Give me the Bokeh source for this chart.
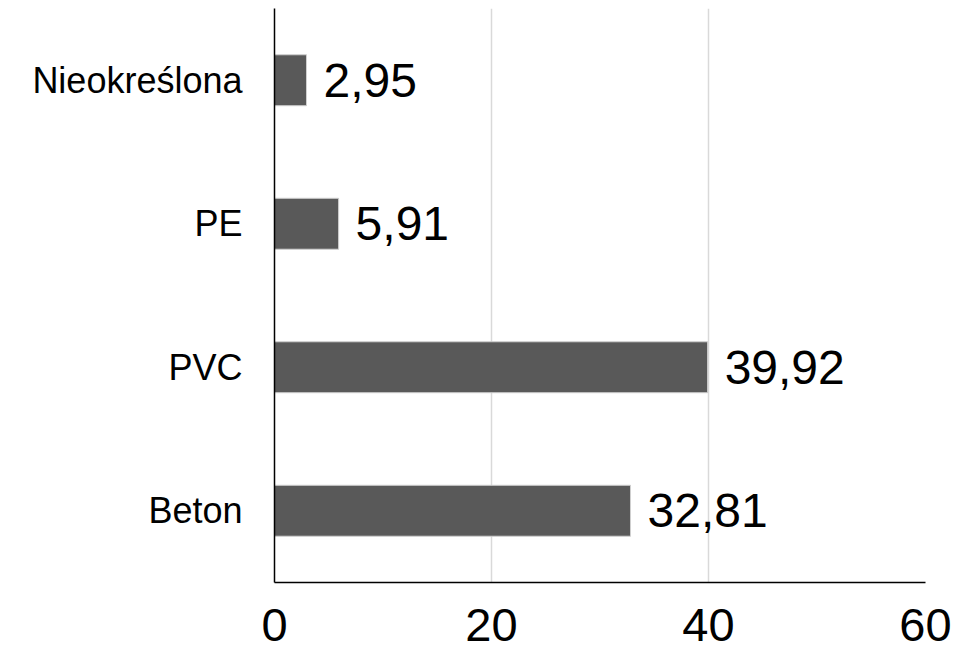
from bokeh.plotting import figure
from bokeh.models import ColumnDataSource, FactorRange, Range1d, FixedTicker
from bokeh.core.properties import value
from bokeh.embed import file_html
from bokeh.resources import INLINE

categories = ["Beton", "PVC", "PE", "Nieokreślona"]
values = [32.81, 39.92, 5.91, 2.95]
x_ticks = [0, 20, 40, 60]

labels = [f"{v:.2f}".replace(".", ",") for v in values]
source = ColumnDataSource(dict(cat=categories, val=values, lab=labels))

FONT = "Liberation Sans"

p = figure(
    width=966, height=662,
    y_range=FactorRange(*categories, range_padding=0),
    x_range=Range1d(0, 60),
    output_backend="svg", toolbar_location=None,
    min_border_left=274, min_border_right=41,
    min_border_top=8, min_border_bottom=80,
)
p.outline_line_color = None

p.hbar(y="cat", right="val", left=0, height=0.355, source=source,
       fill_color="#595959", line_color="#d0d0d0", line_width=1)

p.text(x="val", y="cat", text="lab", source=source, x_offset=17,
       text_align="left", text_baseline="middle",
       text_font=value(FONT), text_font_size="48px", text_color="#000000")

p.xaxis.ticker = FixedTicker(ticks=x_ticks)
p.xaxis.major_tick_out = 0
p.xaxis.major_tick_in = 0
p.xaxis.minor_tick_out = 0
p.xaxis.minor_tick_in = 0
p.xaxis.major_label_standoff = 26
p.xaxis.major_label_text_font = FONT
p.xaxis.major_label_text_font_size = "47px"
p.xaxis.major_label_text_color = "#000000"
p.xaxis.axis_line_color = "#000000"
p.xaxis.axis_line_width = 1.5

p.yaxis.major_tick_out = 0
p.yaxis.major_tick_in = 0
p.yaxis.major_label_standoff = 32
p.yaxis.major_label_text_font = FONT
p.yaxis.major_label_text_font_size = "36px"
p.yaxis.major_label_text_color = "#000000"
p.yaxis.axis_line_color = "#000000"
p.yaxis.axis_line_width = 1.5

p.xgrid.ticker = FixedTicker(ticks=x_ticks)
p.xgrid.grid_line_color = "#d9d9d9"
p.xgrid.grid_line_width = 1.5
p.ygrid.grid_line_color = None

open("out.html", "w").write(file_html(p, INLINE))
